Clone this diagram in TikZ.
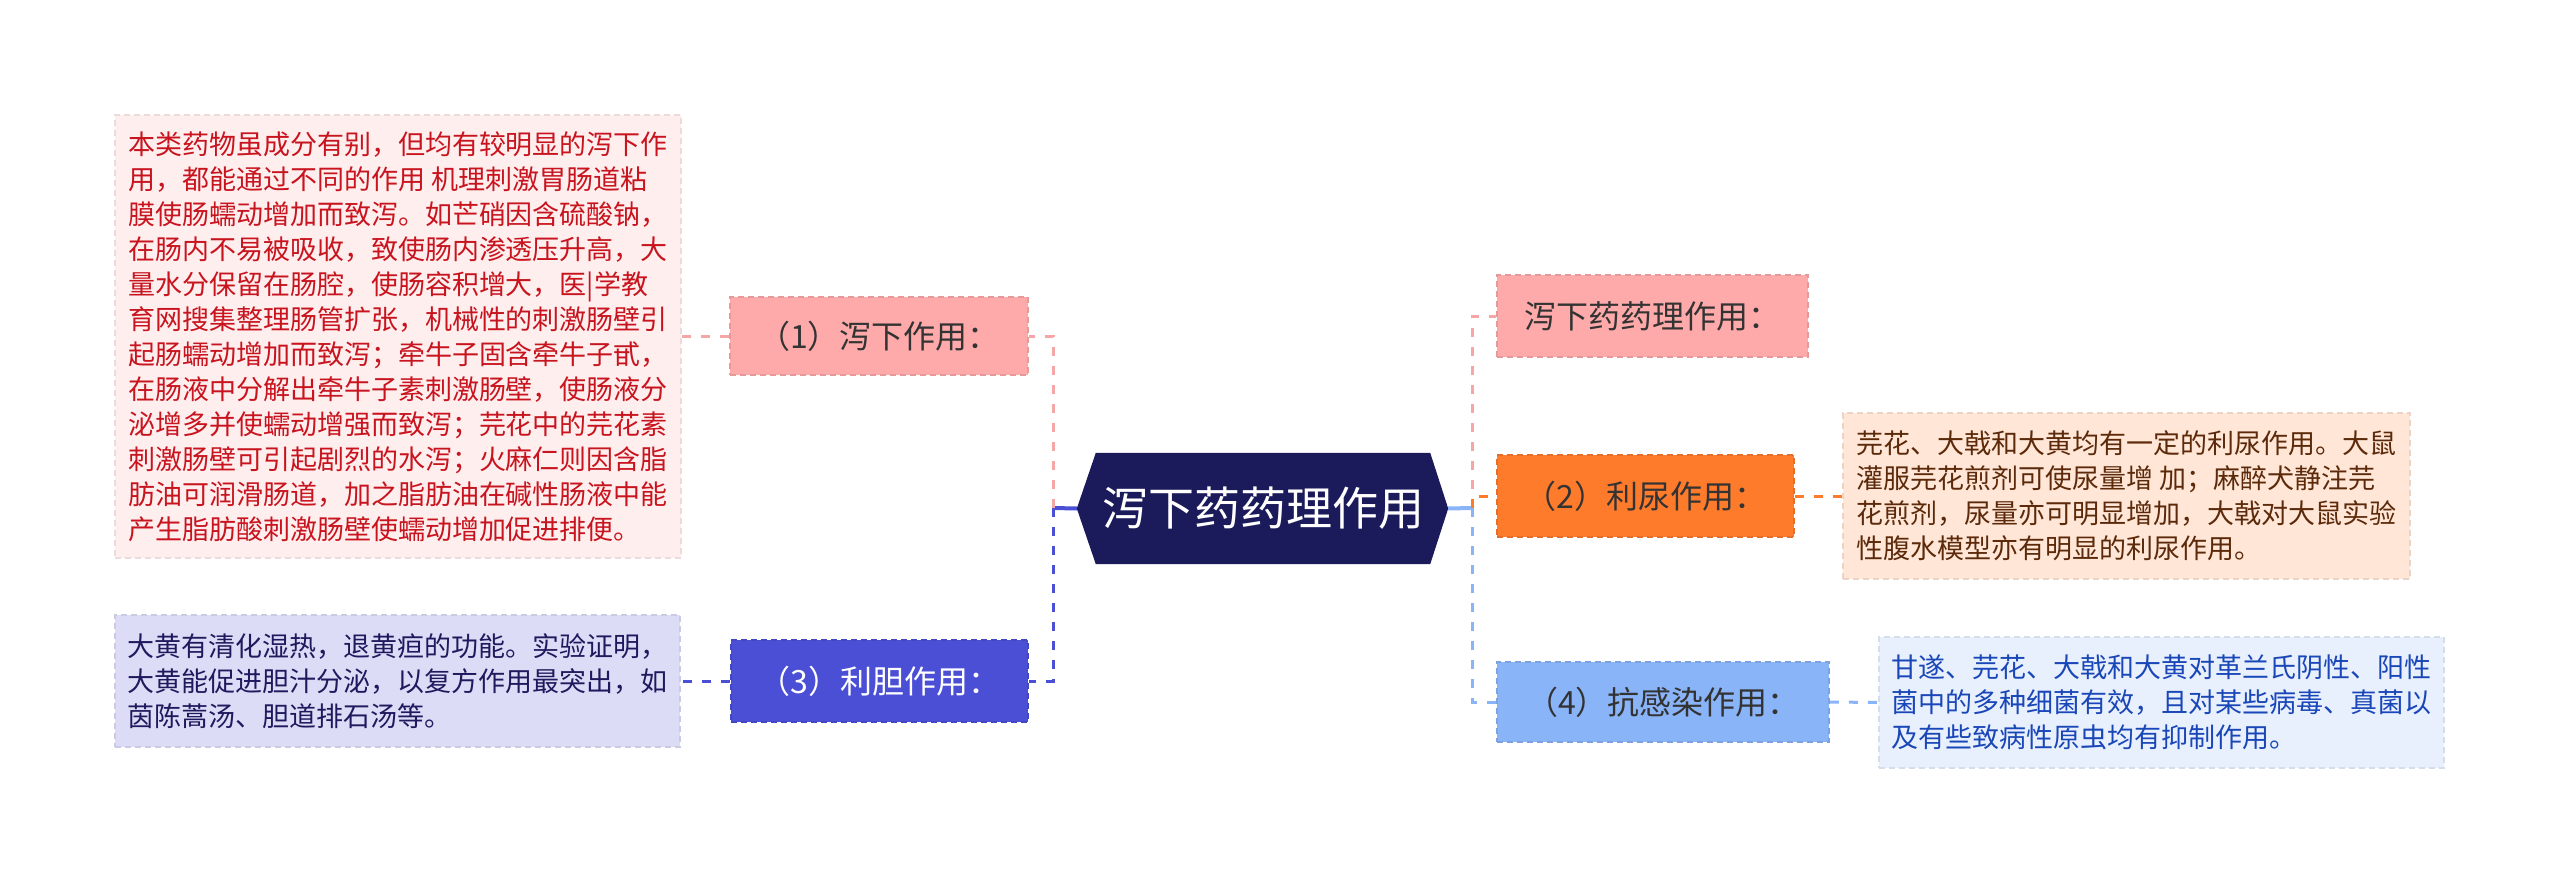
\documentclass[tikz,border=0pt]{standalone}
\usepackage{fontspec}
\newfontfamily\cjk{Noto Sans CJK SC}
\usetikzlibrary{backgrounds}

\definecolor{mindcentre}{rgb}{0.1059,0.1020,0.3529}
\definecolor{mindlabel}{rgb}{0.2000,0.2000,0.2000}
\definecolor{mindpink}{rgb}{1.0,0.6667,0.6667}
\definecolor{mindpinkline}{rgb}{0.9608,0.6510,0.6510}
\definecolor{mindpinknote}{rgb}{1.0,0.9333,0.9333}
\definecolor{mindred}{rgb}{0.7843,0.0784,0.1176}
\definecolor{mindpurple}{rgb}{0.2902,0.3098,0.8392}
\definecolor{mindpurplenote}{rgb}{0.8627,0.8627,0.9647}
\definecolor{mindnavy}{rgb}{0.1216,0.1020,0.3686}
\definecolor{mindorange}{rgb}{1.0,0.4824,0.1725}
\definecolor{mindorangenote}{rgb}{1.0,0.9020,0.8392}
\definecolor{mindbrown}{rgb}{0.3608,0.1647,0.0392}
\definecolor{mindblue}{rgb}{0.5412,0.7059,0.9725}
\definecolor{mindbluenote}{rgb}{0.9098,0.9412,0.9922}
\definecolor{minddeepblue}{rgb}{0.1020,0.2784,0.7216}

\tikzset{
  centrebox/.style={rectangle,inner sep=0pt,minimum width=334,minimum height=111,text=white,font=\cjk\fontsize{46}{52}\selectfont},
  topicbox/.style={rectangle,inner sep=0pt,text=mindlabel,font=\cjk\fontsize{32}{38}\selectfont,line width=1.5pt,dash pattern=on 6pt off 4pt},
  notebox/.style={rectangle,inner sep=0pt,align=left,font=\cjk\fontsize{27}{35}\selectfont,line width=1.5pt,dash pattern=on 6pt off 4pt},
  linkdash/.style={line width=3pt,dash pattern=on 9pt off 10pt},
  linkstub/.style={line width=4pt}
}

\begin{document}
\begin{tikzpicture}[x=1pt,y=-1pt]
\useasboundingbox (0,0) rectangle (2560,883);

\node[centrebox] (centre) at (1263,508.5) {泻下药药理作用};
\begin{scope}[on background layer]
\fill[mindcentre] (centre.north west) -- ([xshift=-19pt]centre.west) -- (centre.south west)
  -- (centre.south east) -- ([xshift=18pt]centre.east) -- (centre.north east) -- cycle;
\end{scope}
\coordinate (lefttip) at ([xshift=-19pt]centre.west);
\coordinate (righttip) at ([xshift=18pt]centre.east);
\coordinate (leftfork) at (1053,508);
\coordinate (rightfork) at (1472,508);

\node[topicbox,fill=mindpink,draw=mindpink!90!black,minimum width=298,minimum height=78] (xiexia) at (879,336) {（1）泻下作用：};
\node[topicbox,fill=mindpurple,draw=mindpurple!90!black,text=white,minimum width=297,minimum height=82] (lidan) at (879.5,681) {（3）利胆作用：};
\node[topicbox,fill=mindpink,draw=mindpink!90!black,minimum width=311,minimum height=82] (yaoli) at (1652.5,316) {泻下药药理作用：};
\node[topicbox,fill=mindorange,draw=mindorange!90!black,minimum width=297,minimum height=82] (liniao) at (1645.5,496) {（2）利尿作用：};
\node[topicbox,fill=mindblue,draw=mindblue!90!black,minimum width=332,minimum height=80] (kangran) at (1663,702) {（4）抗感染作用：};

\node[notebox,fill=mindpinknote,draw=mindpinknote!92!black,text=mindred,minimum width=566,minimum height=443] (xiexianote) at (398,336.5) {本类药物虽成分有别，但均有较明显的泻下作\\用，都能通过不同的作用 机理刺激胃肠道粘\\膜使肠蠕动增加而致泻。如芒硝因含硫酸钠，\\在肠内不易被吸收，致使肠内渗透压升高，大\\量水分保留在肠腔，使肠容积增大，医|学教\\育网搜集整理肠管扩张，机械性的刺激肠壁引\\起肠蠕动增加而致泻；牵牛子固含牵牛子甙，\\在肠液中分解出牵牛子素刺激肠壁，使肠液分\\泌增多并使蠕动增强而致泻；芫花中的芫花素\\刺激肠壁可引起剧烈的水泻；火麻仁则因含脂\\肪油可润滑肠道，加之脂肪油在碱性肠液中能\\产生脂肪酸刺激肠壁使蠕动增加促进排便。};
\node[notebox,fill=mindpurplenote,draw=mindpurplenote!92!black,text=mindnavy,minimum width=565,minimum height=132] (lidannote) at (397.5,681) {大黄有清化湿热，退黄疸的功能。实验证明，\\大黄能促进胆汁分泌，以复方作用最突出，如\\茵陈蒿汤、胆道排石汤等。};
\node[notebox,fill=mindorangenote,draw=mindorangenote!92!black,text=mindbrown,minimum width=567,minimum height=166] (liniaonote) at (2126.5,496) {芫花、大戟和大黄均有一定的利尿作用。大鼠\\灌服芫花煎剂可使尿量增 加；麻醉犬静注芫\\花煎剂，尿量亦可明显增加，大戟对大鼠实验\\性腹水模型亦有明显的利尿作用。};
\node[notebox,fill=mindbluenote,draw=mindbluenote!92!black,text=minddeepblue,minimum width=565,minimum height=131] (kangrannote) at (2161.5,702.5) {甘遂、芫花、大戟和大黄对革兰氏阴性、阳性\\菌中的多种细菌有效，且对某些病毒、真菌以\\及有些致病性原虫均有抑制作用。};

\draw[linkstub,mindpurple] (lefttip) -- (leftfork);
\draw[linkdash,mindpinkline] (leftfork) |- (xiexia.east);
\draw[linkdash,mindpurple] (leftfork) |- (lidan.east);
\draw[linkdash,mindpinkline] (xiexia.west) -- (xiexianote.east |- xiexia.west);
\draw[linkdash,mindpurple] (lidan.west) -- (lidannote.east);
\draw[linkstub,mindblue] (righttip) -- (rightfork);
\draw[linkdash,mindpinkline] (rightfork) |- (yaoli.west);
\draw[linkdash,mindorange] (rightfork) |- (liniao.west);
\draw[linkdash,mindblue] (rightfork) |- (kangran.west);
\draw[linkdash,mindorange] (liniao.east) -- (liniaonote.west);
\draw[linkdash,mindblue] (kangran.east) -- (kangrannote.west);
\end{tikzpicture}
\end{document}
